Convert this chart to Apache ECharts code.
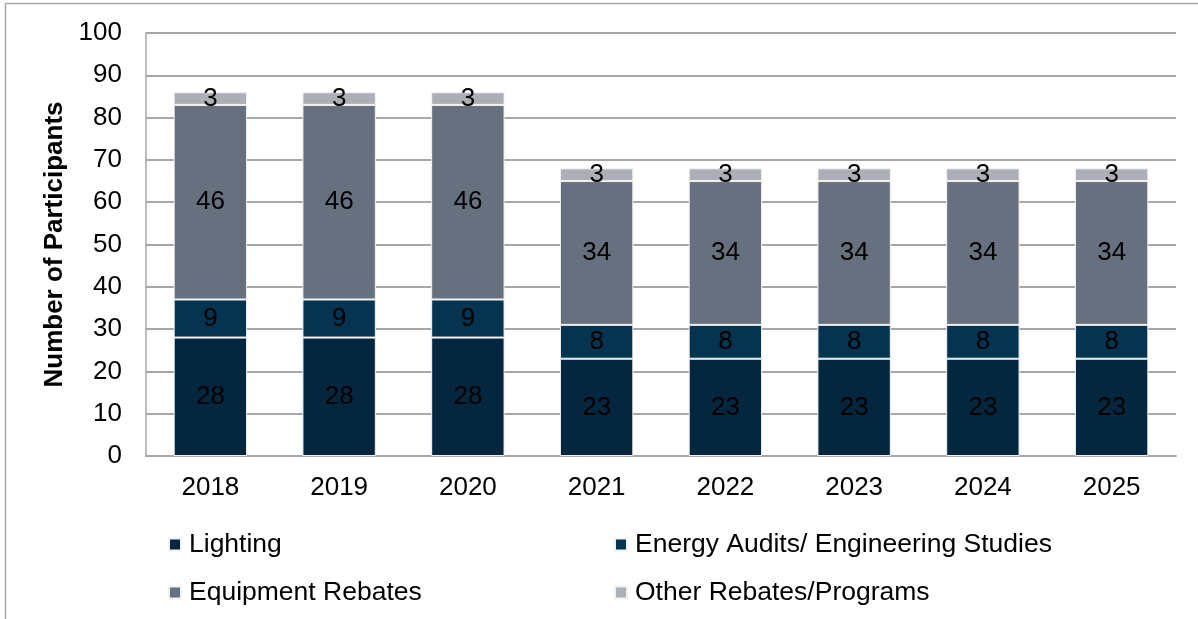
<!DOCTYPE html>
<html>
<head>
<meta charset="utf-8">
<script src="https://cdn.jsdelivr.net/npm/echarts@6/dist/echarts.min.js"></script>
<style>
  html, body { margin: 0; padding: 0; background: #ffffff; }
  #chart { width: 1198px; height: 619px; }
</style>
</head>
<body>
<div id="chart"></div>
<script>
// Participants per program category, by year
const years = ['2018', '2019', '2020', '2021', '2022', '2023', '2024', '2025'];
const lighting = [28, 28, 28, 23, 23, 23, 23, 23];
const energyAudits = [9, 9, 9, 8, 8, 8, 8, 8];
const equipmentRebates = [46, 46, 46, 34, 34, 34, 34, 34];
const otherRebates = [3, 3, 3, 3, 3, 3, 3, 3];
const yTicks = { min: 0, max: 100, interval: 10 };

const seriesNames = ['Lighting', 'Energy Audits/ Engineering Studies', 'Equipment Rebates', 'Other Rebates/Programs'];
const seriesData = [lighting, energyAudits, equipmentRebates, otherRebates];
const seriesColors = ['#04273f', '#04344f', '#67707e', '#acafb6'];

const FONT = 'Liberation Sans, Arial, sans-serif';
const FS = 26;

const chart = echarts.init(document.getElementById('chart'), null, { renderer: 'canvas' });

const legendBase = {
  orient: 'vertical',
  top: 526,
  itemWidth: 12,
  itemHeight: 12,
  itemGap: 21,
  icon: 'rect',
  textStyle: { fontFamily: FONT, fontSize: 26.5, color: '#000000', padding: [0, 0, 3, 3] }
};

chart.setOption({
  animation: false,
  backgroundColor: '#ffffff',
  textStyle: { fontFamily: FONT },
  graphic: [
    {
      type: 'polyline',
      shape: { points: [[5.5, 640], [5.5, 3.5], [1210, 3.5]] },
      style: { stroke: '#a6a6a6', lineWidth: 1.5, fill: null },
      silent: true
    }
  ],
  grid: { left: 146, right: 22, top: 33, bottom: 163 },
  legend: [
    Object.assign({ data: [seriesNames[0], seriesNames[2]], left: 163 }, legendBase),
    Object.assign({ data: [seriesNames[1], seriesNames[3]], left: 609 }, legendBase)
  ],
  xAxis: {
    type: 'category',
    data: years,
    axisLine: { show: true, lineStyle: { color: '#a6a6a6', width: 2 } },
    axisTick: { show: false },
    axisLabel: { fontFamily: FONT, fontSize: FS, color: '#000000', margin: 19 }
  },
  yAxis: {
    type: 'value',
    min: yTicks.min,
    max: yTicks.max,
    interval: yTicks.interval,
    name: 'Number of Participants',
    nameLocation: 'middle',
    nameGap: 76,
    nameTextStyle: { fontFamily: FONT, fontSize: FS, fontWeight: 'bold', color: '#000000' },
    axisLine: { show: true, lineStyle: { color: '#a6a6a6', width: 1.5 } },
    axisTick: { show: false },
    axisLabel: { fontFamily: FONT, fontSize: FS, color: '#000000', margin: 24 },
    splitLine: { show: true, lineStyle: { color: '#a6a6a6', width: 2 } }
  },
  series: seriesNames.map((name, i) => ({
    name: name,
    type: 'bar',
    stack: 'total',
    barWidth: '57%',
    data: seriesData[i],
    itemStyle: { color: seriesColors[i], borderColor: '#f2f2f2', borderWidth: 1 },
    label: {
      show: true,
      position: 'inside',
      fontFamily: FONT,
      fontSize: FS,
      color: '#000000'
    }
  }))
});
</script>
</body>
</html>
